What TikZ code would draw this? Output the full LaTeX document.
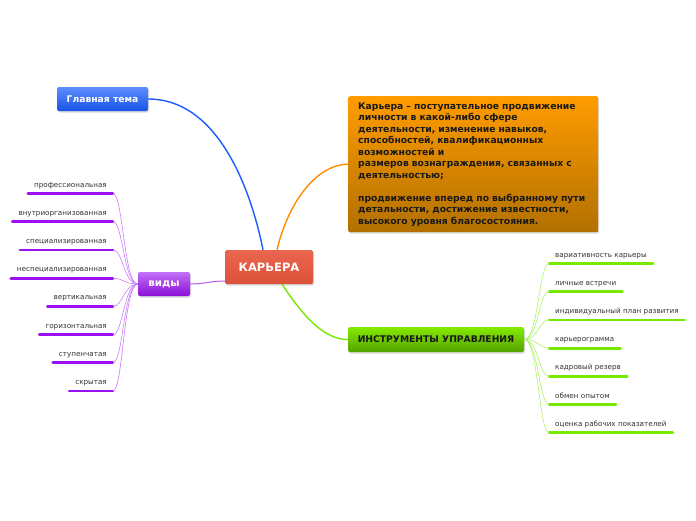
\documentclass[tikz,border=0pt]{standalone}
\usepackage{fontspec}
\setmainfont{DejaVu Sans}
\usepackage{tikz}
\usetikzlibrary{shadows, positioning}

\begin{document}
\begin{tikzpicture}[
        x=1pt, y=-1pt,
        centerBlock/.style={
            rectangle, rounded corners=1.5pt,
            top color=karieraRed!90!white, bottom color=karieraRed!95!black,
            text=white, minimum width=88pt, minimum height=34pt,
            font=\fontsize{11.5}{13}\selectfont\bfseries,
            drop shadow={opacity=0.3, shadow xshift=1pt, shadow yshift=-1.5pt}
        },
        topicBlock/.style={
            rectangle, rounded corners=2pt, text=white,
            font=\fontsize{9.2}{11}\selectfont\bfseries,
            drop shadow={opacity=0.3, shadow xshift=1pt, shadow yshift=-1.5pt}
        },
        leafText/.style={
            inner xsep=6pt, inner ysep=0pt, text=black!80,
            font=\fontsize{7.2}{8}\selectfont
        },
        vidyLeaf/.style={
            leafText, anchor=base east,
            append after command={([yshift=-6.5pt]\tikzlastnode.base west) edge[vidyUnder] ([yshift=-6.5pt]\tikzlastnode.base east)}
        },
        instrLeaf/.style={
            leafText, anchor=base west,
            append after command={([yshift=-6.5pt]\tikzlastnode.base west) edge[instrUnder] ([yshift=-6.5pt]\tikzlastnode.base east)}
        },
        vidyUnder/.style={line width=2.8pt, line cap=round, color=vidyDark},
        instrUnder/.style={line width=2.8pt, line cap=round, color=instrDark},
        vidyLink/.style={line width=0.6pt, color=vidyDark!55},
        instrLink/.style={line width=0.6pt, color=instrDark!60}
    ]
        \definecolor{vidyDark}{HTML}{9A10F0}
        \definecolor{instrDark}{HTML}{77E800}
        \definecolor{karieraRed}{HTML}{E8553C}
        \definecolor{temaBlue}{HTML}{1A5CFF}
        \useasboundingbox (0,0) rectangle (696,520);

        % Nodes
        \node (kariera) [centerBlock] at (269,267) {КАРЬЕРА};
        \node (glavTema) [topicBlock, minimum width=91pt, minimum height=24pt,
            top color=temaBlue!70!white, bottom color=temaBlue!90!black] at (102.5,99) {Главная тема};
        \node (opisanie) [topicBlock, anchor=north west, text=black!90, align=left,
            text width=230pt, minimum height=136pt, inner xsep=10pt,
            top color={rgb,255:red,255;green,156;blue,0}, bottom color={rgb,255:red,178;green,112;blue,0},
            font=\fontsize{9.2}{11.5}\selectfont\bfseries] at (348,96)
            {Карьера – поступательное продвижение\\ личности в какой-либо сфере\\ деятельности, изменение навыков,\\ способностей, квалификационных\\ возможностей и\\ размеров вознаграждения, связанных с\\ деятельностью;\\[11.5pt] продвижение вперед по выбранному пути\\ детальности, достижение известности,\\ высокого уровня благосостояния.};
        \node (instrumenty) [topicBlock, text=black!90, minimum width=176pt, minimum height=25pt,
            top color=instrDark!90!yellow, bottom color=instrDark!70!black] at (436,339.5) {ИНСТРУМЕНТЫ УПРАВЛЕНИЯ};
        \node (vidy) [topicBlock, minimum width=52pt, minimum height=24pt,
            font=\fontsize{10.3}{12}\selectfont\bfseries,
            top color=vidyDark!60!white, bottom color=vidyDark!90!black] at (164,284) {виды};

        \node (v1) [vidyLeaf] at (113,187) {профессиональная};
        \node (v2) [vidyLeaf] at (113,215.2) {внутриорганизованная};
        \node (v3) [vidyLeaf] at (113,243.4) {специализированная};
        \node (v4) [vidyLeaf] at (113,271.6) {неспециализированная};
        \node (v5) [vidyLeaf] at (113,299.8) {вертикальная};
        \node (v6) [vidyLeaf] at (113,328) {горизонтальная};
        \node (v7) [vidyLeaf] at (113,356.2) {ступенчатая};
        \node (v8) [vidyLeaf] at (113,384.4) {скрытая};

        \node (i1) [instrLeaf] at (549,257) {вариативность карьеры};
        \node (i2) [instrLeaf] at (549,285.2) {личные встречи};
        \node (i3) [instrLeaf] at (549,313.4) {индивидуальный план развития};
        \node (i4) [instrLeaf] at (549,341.6) {карьерограмма};
        \node (i5) [instrLeaf] at (549,369.8) {кадровый резерв};
        \node (i6) [instrLeaf] at (549,398) {обмен опытом};
        \node (i7) [instrLeaf] at (549,426.2) {оценка рабочих показателей};

        % Arrows
        \draw [line width=1.4pt, color=temaBlue] (glavTema.east) .. controls +(70,0) and +(-12,-60) .. ([xshift=-6pt]kariera.north);
        \draw [line width=1.4pt, color=orange!90!yellow] ([xshift=8pt]kariera.north) .. controls +(12,-50) and +(-30,0) .. (opisanie.west);
        \draw [line width=1.4pt, color=instrDark] ([xshift=13pt]kariera.south) .. controls +(20,30) and +(-25,0) .. (instrumenty.west);
        \draw [line width=1pt, color=vidyDark!70] ([yshift=-14pt]kariera.west) .. controls +(-15,0) and +(15,0) .. (vidy.east);

        \foreach \v in {v1,v2,v3,v4,v5,v6,v7,v8}
            \draw [vidyLink] (vidy.west) .. controls +(-14,0) and +(10,0) .. ([yshift=-6.5pt]\v.base east);
        \foreach \i in {i1,i2,i3,i4,i5,i6,i7}
            \draw [instrLink] (instrumenty.east) .. controls +(14,0) and +(-10,0) .. ([yshift=-6.5pt]\i.base west);
    \end{tikzpicture}
\end{document}
